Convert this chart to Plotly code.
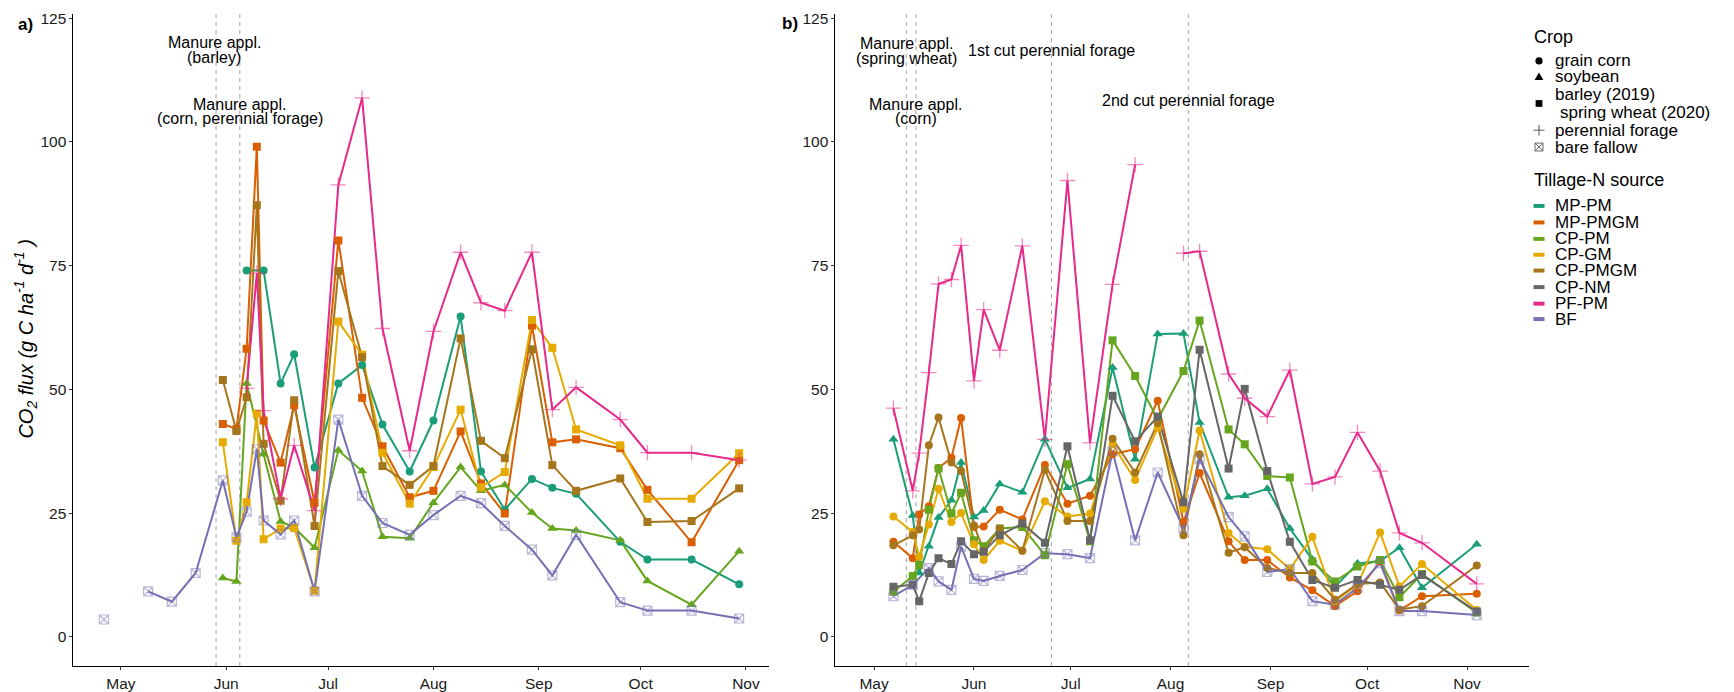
import plotly.graph_objects as go

W, H = 1734, 692
FONT = "Liberation Sans, Arial, sans-serif"

# ---------------- data: panel a (2019) ----------------
A_DATES = ["2019-04-26", "2019-05-09", "2019-05-16", "2019-05-23", "2019-05-31",
           "2019-06-04", "2019-06-07", "2019-06-10", "2019-06-12", "2019-06-17",
           "2019-06-21", "2019-06-27", "2019-07-04", "2019-07-11", "2019-07-17",
           "2019-07-25", "2019-08-01", "2019-08-09", "2019-08-15", "2019-08-22",
           "2019-08-30", "2019-09-05", "2019-09-12", "2019-09-25", "2019-10-03",
           "2019-10-16", "2019-10-30"]
N = None
A_MP_PM = [N, N, N, N, N, N, 74.0, N, 74.0, 51.2, 57.1, 34.2, 51.2, 54.9, 42.9,
           33.4, 43.7, 64.7, 33.4, 25.7, 31.9, 30.1, 28.9, 19.2, 15.6, 15.6, 10.6]
A_MP_PMGM = [N, N, N, N, 43.0, 42.0, 58.2, 99.0, 43.7, 35.2, 46.8, 27.1, 80.1, 48.3,
             38.5, 28.2, 29.5, 41.5, 31.0, 24.9, 62.9, 39.3, 39.9, 38.1, 29.7, 19.1, 35.7]
A_CP_PM = [N, N, N, N, 11.9, 11.2, 51.2, N, 36.9, 23.3, 22.1, 18.0, 37.7, 33.5, 20.2,
           19.9, 27.1, 34.3, 29.5, 30.7, 25.1, 21.9, 21.5, 19.5, 11.3, 6.5, 17.3]
A_CP_GM = [N, N, N, N, 39.3, 19.4, 27.2, 45.1, 19.7, 21.9, 22.0, 9.3, 63.7, 57.0,
           37.2, 26.9, 34.3, 45.9, 30.2, 33.3, 64.0, 58.4, 41.9, 38.7, 27.9, 27.9, 37.1]
A_CP_PMGM = [N, N, N, N, 51.9, 41.6, 48.4, 87.2, 39.0, 27.5, 47.8, 22.4, 73.9, 56.5,
             34.5, 30.7, 34.5, 60.3, 39.6, 36.1, 58.1, 34.7, 29.5, 32.0, 23.2, 23.4, 30.0]
A_PF_PM = [N, N, N, N, N, N, 50.2, 73.5, 45.7, 27.9, 38.7, 25.5, 91.3, 108.9, 62.3,
           37.6, 61.7, 77.7, 67.5, 65.9, 77.7, 45.9, 50.4, 43.9, 37.2, 37.2, 35.7]
A_BF = [3.5, 9.2, 7.1, 12.9, 31.6, 20.1, 25.3, 37.9, 23.5, 20.7, 23.5, 9.2, 43.9, 28.5,
        23.0, 20.6, 24.6, 28.5, 27.0, 22.4, 17.6, 12.4, 20.6, 7.0, 5.3, 5.3, 3.7]

# ---------------- data: panel b (2020) ----------------
B_DATES = ["2020-05-07", "2020-05-13", "2020-05-15", "2020-05-18", "2020-05-21",
           "2020-05-25", "2020-05-28", "2020-06-01", "2020-06-04", "2020-06-09",
           "2020-06-16", "2020-06-23", "2020-06-30", "2020-07-07", "2020-07-14",
           "2020-07-21", "2020-07-28", "2020-08-05", "2020-08-10", "2020-08-19",
           "2020-08-24", "2020-08-31", "2020-09-07", "2020-09-14", "2020-09-21",
           "2020-09-28", "2020-10-05", "2020-10-11", "2020-10-18", "2020-11-04"]
B_MP_PM = [39.9, 24.5, 12.9, 18.3, 24.1, 27.6, 35.2, 24.2, 25.5, 30.9, 29.2, 39.9, 30.1,
           31.9, 54.4, 35.9, 61.2, 61.3, 43.3, 28.2, 28.5, 29.9, 21.9, 15.6, 10.1, 14.8,
           15.3, 18.0, 9.9, 18.7]
B_MP_PMGM = [19.2, 15.9, 24.7, 26.4, 34.1, 36.2, 44.2, 22.2, 22.3, 25.7, 23.7, 34.7, 26.9,
             28.5, 36.9, 37.9, 47.7, 23.2, 33.1, 19.3, 15.5, 15.5, 12.0, 9.4, 6.2, 9.2,
             15.2, 5.3, 8.2, 8.7]
B_CP_PM = [9.1, 12.3, 14.5, 25.7, 34.0, 24.9, 29.1, 19.5, 18.3, 21.9, 22.2, 16.5, 34.9,
           19.3, 59.9, 52.7, 43.9, 53.7, 63.9, 41.9, 38.9, 32.5, 32.2, 15.2, 11.2, 14.2,
           15.5, 8.0, 12.7, 4.9]
B_CP_GM = [24.3, 21.2, 16.2, 22.7, 29.9, 23.2, 25.0, 18.7, 15.5, 19.4, 17.4, 27.4, 24.3,
           24.9, 38.9, 31.7, 42.2, 25.9, 41.7, 21.0, 18.2, 17.7, 13.7, 20.2, 7.2, 10.5,
           21.1, 10.2, 14.7, 5.4]
B_CP_PMGM = [18.5, 20.5, 21.7, 38.7, 44.3, 35.2, 33.5, 22.5, 17.4, 21.9, 17.4, 33.7, 23.4,
             23.4, 40.0, 33.2, 43.2, 20.5, 36.9, 17.0, 18.1, 13.9, 12.9, 12.9, 7.5, 10.7,
             11.0, 5.5, 6.2, 14.4]
B_CP_NM = [10.1, 10.5, 7.2, 12.9, 15.9, 14.7, 19.3, 16.7, 17.2, 20.5, 22.9, 19.0, 38.5,
           19.5, 48.7, 39.5, 44.5, 27.2, 58.0, 34.0, 50.1, 33.5, 19.2, 11.5, 9.9, 11.5,
           10.5, 9.5, 12.5, 5.1]
B_PF_PM = [46.2, 29.5, 37.1, 53.4, 71.3, 72.2, 79.1, 51.7, 66.1, 57.9, 79.0, 39.9, 92.2,
           39.2, 71.2, 95.4, N, 77.5, 77.9, 53.1, 48.2, 44.5, 53.9, 30.9, 32.3, 41.3,
           33.5, 21.0, 19.0, 10.7]
B_BF = [8.2, 10.5, N, 13.9, 11.2, 9.5, 18.2, 11.7, 11.3, 12.3, 13.5, 16.9, 16.7, 15.9,
        37.5, 19.5, 33.2, 21.9, 35.9, 24.2, 20.3, 13.1, 13.7, 7.2, 6.5, 9.9, 14.9, 5.2,
        5.2, 4.4]

# line breaks (new line segment starts at these dates)
BREAKS = {("a", "BF"): ["2019-05-09"], ("b", "PF-PM"): ["2020-08-05"]}

TREATMENTS = ["MP-PM", "MP-PMGM", "CP-PM", "CP-GM", "CP-PMGM", "CP-NM", "PF-PM", "BF"]
COLORS = ["#1B9E77", "#D95F02", "#66A61E", "#E6AB02", "#A6761D", "#666666", "#E7298A", "#7570B3"]

A_SERIES = {"MP-PM": A_MP_PM, "MP-PMGM": A_MP_PMGM, "CP-PM": A_CP_PM, "CP-GM": A_CP_GM,
            "CP-PMGM": A_CP_PMGM, "PF-PM": A_PF_PM, "BF": A_BF}
B_SERIES = {"MP-PM": B_MP_PM, "MP-PMGM": B_MP_PMGM, "CP-PM": B_CP_PM, "CP-GM": B_CP_GM,
            "CP-PMGM": B_CP_PMGM, "CP-NM": B_CP_NM, "PF-PM": B_PF_PM, "BF": B_BF}
A_CROP = {"MP-PM": "grain corn", "MP-PMGM": "barley", "CP-PM": "soybean", "CP-GM": "barley",
          "CP-PMGM": "barley", "PF-PM": "perennial forage", "BF": "bare fallow"}
B_CROP = {"MP-PM": "soybean", "MP-PMGM": "grain corn", "CP-PM": "spring wheat",
          "CP-GM": "grain corn", "CP-PMGM": "grain corn", "CP-NM": "spring wheat",
          "PF-PM": "perennial forage", "BF": "bare fallow"}

MONTH_LABELS = ["May", "Jun", "Jul", "Aug", "Sep", "Oct", "Nov"]
A_MONTH_TICKS = ["2019-05-01", "2019-06-01", "2019-07-01", "2019-08-01", "2019-09-01",
                 "2019-10-01", "2019-11-01"]
B_MONTH_TICKS = ["2020-05-01", "2020-06-01", "2020-07-01", "2020-08-01", "2020-09-01",
                 "2020-10-01", "2020-11-01"]
Y_TICKS = [0, 25, 50, 75, 100, 125]

VLINES_A = ["2019-05-29", "2019-06-05"]
VLINES_B = ["2020-05-11", "2020-05-14", "2020-06-25", "2020-08-06 12:00"]

# event labels: (panel, date, y, text line)
EVENT_LABELS = [
    ("a", "2019-05-28 12:00", 120.0, "Manure appl."), ("a", "2019-05-28 12:00", 117.0, "(barley)"),
    ("a", "2019-06-05", 107.6, "Manure appl."), ("a", "2019-06-05", 104.8, "(corn, perennial forage)"),
    ("b", "2020-05-11", 119.8, "Manure appl."), ("b", "2020-05-11", 116.9, "(spring wheat)"),
    ("b", "2020-05-14", 107.6, "Manure appl."), ("b", "2020-05-14", 104.8, "(corn)"),
    ("b", "2020-06-25", 118.5, "1st cut perennial forage"),
    ("b", "2020-08-06 12:00", 108.4, "2nd cut perennial forage"),
]

# ---------------- styles ----------------
def rgba(hex_color, a):
    h = hex_color.lstrip("#")
    return "rgba(%d,%d,%d,%.2f)" % (int(h[0:2], 16), int(h[2:4], 16), int(h[4:6], 16), a)

def marker_style(crop, color):
    if crop == "grain corn":
        return dict(symbol="circle", size=8, color=color)
    if crop == "soybean":
        return dict(symbol="triangle-up", size=9, color=color)
    if crop in ("barley", "spring wheat"):
        return dict(symbol="square", size=8, color=color)
    if crop == "perennial forage":
        return dict(symbol="cross-thin", size=11, color=rgba(color, 0.55),
                    line=dict(width=1.3, color=rgba(color, 0.55)))
    return dict(symbol="square-x-open", size=9, color=rgba(color, 0.5),
                line=dict(width=1.2, color=rgba(color, 0.5)))

fig = go.Figure()

def build_xy(panel, name, dates, vals):
    xs, ys = [], []
    brk = BREAKS.get((panel, name), [])
    for d, v in zip(dates, vals):
        if v is None:
            continue
        if d in brk and xs:
            xs.append(None)
            ys.append(None)
        xs.append(d)
        ys.append(v)
    return xs, ys

panels = [("a", A_DATES, A_SERIES, A_CROP, "x", "y"),
          ("b", B_DATES, B_SERIES, B_CROP, "x2", "y2")]

for panel, dates, series, crops, xa, ya in panels:
    for name, color in zip(TREATMENTS, COLORS):
        if name not in series:
            continue
        xs, ys = build_xy(panel, name, dates, series[name])
        fig.add_trace(go.Scatter(x=xs, y=ys, mode="lines", xaxis=xa, yaxis=ya,
                                 line=dict(color=color, width=2), connectgaps=False,
                                 showlegend=False, name=name))
    for name, color in zip(TREATMENTS, COLORS):
        if name not in series:
            continue
        xs, ys = build_xy(panel, name, dates, series[name])
        fig.add_trace(go.Scatter(x=xs, y=ys, mode="markers", xaxis=xa, yaxis=ya,
                                 marker=marker_style(crops[name], color),
                                 showlegend=False, name=name))

# ---------------- layout ----------------
def px_x(p):
    return p / W

def px_y(p):
    return 1 - p / H

Y_RANGE = [-5.94, 125.86]
axis_common = dict(showline=True, linecolor="black", linewidth=1, ticks="outside",
                   ticklen=3, tickcolor="#333333", showgrid=False, zeroline=False,
                   tickfont=dict(family=FONT, size=15.5, color="#1a1a1a"))

fig.update_layout(
    width=W, height=H, margin=dict(l=0, r=0, t=0, b=0),
    paper_bgcolor="white", plot_bgcolor="white", showlegend=False,
    font=dict(family=FONT, color="black"),
    xaxis=dict(domain=[px_x(73.4), px_x(769)], range=["2019-04-17", "2019-11-07 19:00"],
               type="date", tickvals=A_MONTH_TICKS, ticktext=MONTH_LABELS, anchor="y",
               **axis_common),
    yaxis=dict(domain=[px_y(669), px_y(10)], range=Y_RANGE, tickvals=Y_TICKS, anchor="x",
               **axis_common),
    xaxis2=dict(domain=[px_x(835.4), px_x(1529)], range=["2020-04-19", "2020-11-20 05:00"],
                type="date", tickvals=B_MONTH_TICKS, ticktext=MONTH_LABELS, anchor="y2",
                **axis_common),
    yaxis2=dict(domain=[px_y(669), px_y(10)], range=Y_RANGE, tickvals=Y_TICKS, anchor="x2",
                **axis_common),
)

shapes = []
for d in VLINES_A:
    shapes.append(dict(type="line", xref="x", yref="y domain", x0=d, x1=d, y0=0, y1=1,
                       line=dict(color="#A0A0A0", width=1, dash="4px,4px"), layer="below"))
for d in VLINES_B:
    shapes.append(dict(type="line", xref="x2", yref="y2 domain", x0=d, x1=d, y0=0, y1=1,
                       line=dict(color="#A0A0A0", width=1, dash="4px,4px"), layer="below"))

annotations = []
for panel, d, yv, txt in EVENT_LABELS:
    annotations.append(dict(x=d, y=yv, xref="x" if panel == "a" else "x2",
                            yref="y" if panel == "a" else "y2", text=txt, showarrow=False,
                            xanchor="center", yanchor="middle",
                            font=dict(family=FONT, size=16, color="black")))

# panel tags and y title
annotations.append(dict(x=px_x(25), y=px_y(21), xref="paper", yref="paper", text="<b>a)</b>",
                        showarrow=False, xanchor="center", yanchor="middle",
                        font=dict(family=FONT, size=17, color="black")))
annotations.append(dict(x=px_x(790), y=px_y(20), xref="paper", yref="paper", text="<b>b)</b>",
                        showarrow=False, xanchor="center", yanchor="middle",
                        font=dict(family=FONT, size=17, color="black")))
annotations.append(dict(x=px_x(26), y=px_y(339), xref="paper", yref="paper", textangle=-90,
                        text="<i>CO<sub>2</sub> flux (g C ha<sup>-1</sup> d<sup>-1</sup> )</i>",
                        showarrow=False, xanchor="center", yanchor="middle",
                        font=dict(family=FONT, size=20, color="black")))

# ---------------- legend (keys + labels) ----------------
LEG_SYM_X = 1539
LEG_TXT_X = 1553
LEG_TITLE_X = 1532
CROP_TITLE_Y = 33
CROP_ITEMS = [("grain corn", "circle", 57.5, [57.5]),
              ("soybean", "triangle", 73.5, [73.5]),
              ("barley (2019)|spring wheat (2020)", "square", 100.5, [91.5, 110.0]),
              ("perennial forage", "plus", 127.5, [127.5]),
              ("bare fallow", "boxx", 144.5, [144.5])]
TILL_TITLE_Y = 178
TILL_Y = [204, 220.7, 237.3, 253.3, 269.3, 286, 302.7, 318.3]
LEG_FONT = 17
LEG_TITLE_FONT = 18

def ann_left(xp, yp, text, size=16):
    return dict(x=px_x(xp), y=px_y(yp), xref="paper", yref="paper", text=text,
                showarrow=False, xanchor="left", yanchor="middle",
                font=dict(family=FONT, size=size, color="black"))

annotations.append(ann_left(LEG_TITLE_X, CROP_TITLE_Y, "Crop", LEG_TITLE_FONT))
annotations.append(ann_left(LEG_TITLE_X, TILL_TITLE_Y, "Tillage-N source", LEG_TITLE_FONT))

def pshape(kind, cx, cy, r, color, width=1, fill=None):
    d = dict(type=kind, xref="paper", yref="paper", x0=px_x(cx - r), x1=px_x(cx + r),
             y0=px_y(cy + r), y1=px_y(cy - r), line=dict(color=color, width=width))
    if fill:
        d["fillcolor"] = fill
    return d

for label, sym, sy, text_ys in CROP_ITEMS:
    parts = label.split("|")
    for i, (t, ty) in enumerate(zip(parts, text_ys)):
        annotations.append(ann_left(LEG_TXT_X + (5 if i > 0 else 0), ty, t, LEG_FONT))
    cx = LEG_SYM_X
    if sym == "circle":
        shapes.append(pshape("circle", cx, sy, 3.6, "black", 0, "black"))
    elif sym == "square":
        shapes.append(pshape("rect", cx, sy, 3.4, "black", 0, "black"))
    elif sym == "triangle":
        path = "M %f,%f L %f,%f L %f,%f Z" % (px_x(cx - 4.4), px_y(sy + 3.4), px_x(cx + 4.4),
                                               px_y(sy + 3.4), px_x(cx), px_y(sy - 4.2))
        shapes.append(dict(type="path", xref="paper", yref="paper", path=path,
                           fillcolor="black", line=dict(width=0)))
    elif sym == "plus":
        shapes.append(dict(type="line", xref="paper", yref="paper", x0=px_x(cx - 5.5),
                           x1=px_x(cx + 5.5), y0=px_y(sy), y1=px_y(sy),
                           line=dict(color="#555555", width=1)))
        shapes.append(dict(type="line", xref="paper", yref="paper", x0=px_x(cx), x1=px_x(cx),
                           y0=px_y(sy - 5.5), y1=px_y(sy + 5.5),
                           line=dict(color="#555555", width=1)))
    else:
        shapes.append(pshape("rect", cx, sy, 4, "#666666", 1))
        shapes.append(dict(type="line", xref="paper", yref="paper", x0=px_x(cx - 4),
                           x1=px_x(cx + 4), y0=px_y(sy - 4), y1=px_y(sy + 4),
                           line=dict(color="#666666", width=1)))
        shapes.append(dict(type="line", xref="paper", yref="paper", x0=px_x(cx - 4),
                           x1=px_x(cx + 4), y0=px_y(sy + 4), y1=px_y(sy - 4),
                           line=dict(color="#666666", width=1)))

for name, color, ty in zip(TREATMENTS, COLORS, TILL_Y):
    shapes.append(dict(type="rect", xref="paper", yref="paper", x0=px_x(LEG_SYM_X - 5.5),
                       x1=px_x(LEG_SYM_X + 5.5), y0=px_y(ty + 2), y1=px_y(ty - 2),
                       fillcolor=color, line=dict(width=0)))
    annotations.append(ann_left(LEG_TXT_X, ty, name, LEG_FONT))

fig.update_layout(shapes=shapes, annotations=annotations)
fig.write_html("out.html", config={"displayModeBar": False},
               post_script="document.body.style.margin='0px';document.body.style.overflow='hidden';")
